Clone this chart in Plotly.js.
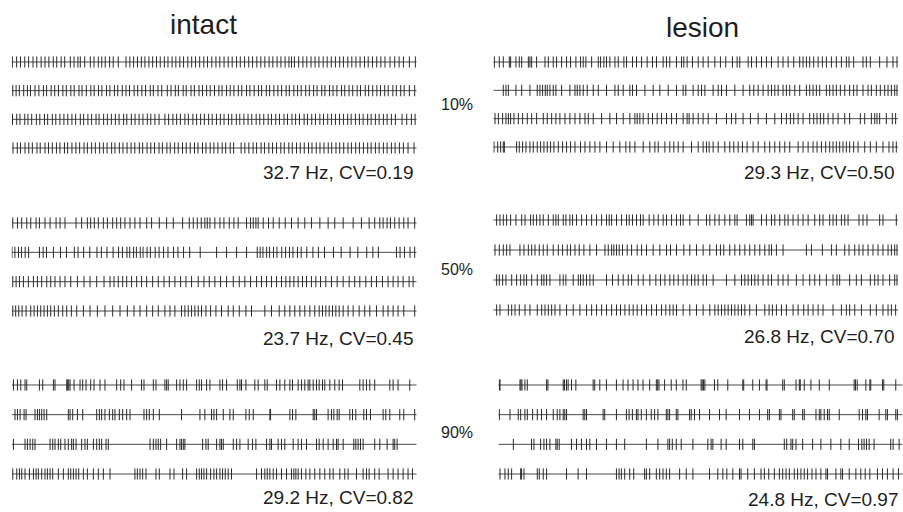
<!DOCTYPE html>
<html><head><meta charset="utf-8">
<script src="https://cdn.plot.ly/plotly-3.0.1.min.js"></script>
<style>html,body{margin:0;padding:0;background:#fff}#chart{width:903px;height:512px}</style>
</head><body><div id="chart"></div>
<script>
// ---- data (spike times in ms within a ~3 s window) ----
const columns = ["intact", "lesion"];
const levels = ["10%", "50%", "90%"];
const intactStats = ["32.7 Hz, CV=0.19", "23.7 Hz, CV=0.45", "29.2 Hz, CV=0.82"];
const lesionStats = ["29.3 Hz, CV=0.50", "26.8 Hz, CV=0.70", "24.8 Hz, CV=0.97"];
const WINDOW_MS = 3040;

const intact10 = [
  [5,37,66,98,127,160,188,221,250,279,312,338,371,398,440,468,497,515,548,590,618,650,676,702,735,762,800,858,887,915,944,973,1000,1030,1058,1087,1115,1146,1173,1204,1232,1262,1290,1322,1351,1380,1411,1442,1470,1502,1533,1562,1594,1625,1655,1688,1716,1748,1779,1808,1840,1870,1900,1932,1960,1992,2021,2052,2081,2100,2122,2154,2186,2215,2247,2277,2306,2338,2368,2399,2430,2462,2490,2523,2553,2584,2615,2648,2676,2708,2740,2771,2802,2840,2875,2908,2940,2985,3030],
  [8,33,57,90,118,141,175,204,238,262,296,323,351,384,410,444,469,505,528,560,594,619,652,677,712,737,771,796,830,858,884,919,946,977,1005,1040,1063,1098,1126,1168,1196,1228,1251,1287,1310,1346,1371,1406,1432,1463,1490,1522,1555,1579,1613,1640,1668,1701,1727,1763,1788,1820,1852,1876,1911,1936,1968,1998,2026,2060,2084,2118,2146,2173,2207,2234,2266,2292,2327,2351,2386,2412,2441,2476,2500,2532,2560,2593,2618,2654,2679,2710,2741,2768,2800,2826,2861,2887,2920,2946,2985,3025],
  [6,38,62,98,122,150,185,211,246,270,305,331,362,392,421,452,480,515,540,572,600,633,656,690,718,748,778,806,840,864,898,926,956,985,1018,1044,1075,1106,1150,1178,1210,1238,1266,1300,1326,1360,1388,1418,1446,1478,1505,1537,1566,1594,1627,1652,1686,1712,1743,1774,1802,1835,1862,1892,1925,1950,1982,2010,2044,2070,2104,2131,2160,2195,2220,2252,2280,2313,2340,2372,2400,2430,2461,2490,2522,2548,2580,2610,2638,2672,2698,2730,2758,2790,2818,2850,2880,2930,2965,3000,3028],
  [10,42,66,100,128,155,190,214,250,276,305,336,362,396,420,452,482,510,543,568,600,628,660,688,716,750,775,808,835,866,896,924,958,983,1016,1044,1072,1106,1131,1165,1190,1223,1250,1282,1310,1340,1372,1398,1432,1458,1490,1518,1548,1580,1606,1640,1666,1722,1750,1780,1812,1838,1872,1898,1930,1958,1988,2020,2046,2080,2106,2138,2166,2196,2228,2254,2286,2314,2344,2376,2402,2434,2462,2492,2524,2550,2582,2610,2640,2672,2698,2730,2758,2790,2818,2850,2878,2910,2940,2975,3020]
];
const intact50 = [
  [8,43,75,113,143,183,208,250,288,333,363,400,483,525,568,593,620,650,688,718,758,788,818,850,888,925,963,1013,1050,1108,1163,1213,1283,1333,1363,1393,1423,1450,1468,1488,1525,1563,1593,1633,1668,1700,1763,1793,1813,1833,1850,1888,1928,1963,2008,2053,2100,2150,2200,2250,2313,2375,2425,2488,2563,2625,2683,2725,2763,2788,2818,2843,2875,2908,2943,2975,3025],
  [2,24,51,73,101,127,208,236,261,313,366,411,470,498,540,586,640,673,715,761,802,831,865,886,915,936,965,986,1016,1041,1077,1106,1140,1173,1215,1248,1290,1336,1415,1538,1613,1688,1763,1843,1865,1886,1914,1936,1965,1991,2027,2056,2085,2111,2145,2173,2215,2261,2302,2348,2415,2473,2540,2598,2665,2711,2752,2888,2915,2948,2990,3025],
  [8,33,58,88,125,163,193,225,263,293,325,363,400,443,493,543,588,638,693,738,768,800,833,863,900,938,975,1013,1058,1100,1143,1183,1225,1268,1308,1350,1400,1443,1483,1525,1568,1613,1663,1708,1750,1793,1838,1875,1913,1950,1988,2025,2058,2088,2118,2150,2183,2213,2250,2283,2318,2358,2400,2443,2488,2533,2575,2613,2658,2700,2738,2783,2825,2863,2900,2938,2983,3013],
  [8,30,53,78,108,143,168,193,218,243,268,293,320,350,383,413,448,488,538,588,643,700,758,813,868,918,963,1013,1058,1100,1150,1188,1225,1275,1300,1325,1350,1375,1400,1425,1458,1493,1533,1575,1625,1663,1708,1758,1800,1900,1950,2008,2050,2088,2125,2163,2200,2238,2275,2308,2333,2358,2383,2408,2433,2458,2488,2525,2563,2608,2650,2688,2738,2788,2825,2863,2900,2943,3025]
];
const intact90 = [
  [13,43,68,100,113,208,233,313,325,413,420,428,438,468,513,533,558,593,618,663,700,788,818,843,900,975,993,1063,1083,1150,1163,1175,1238,1263,1288,1313,1388,1408,1425,1463,1488,1563,1583,1613,1693,1713,1725,1758,1825,1850,1900,1918,1988,2013,2050,2088,2108,2150,2175,2200,2225,2238,2263,2288,2308,2333,2350,2388,2425,2458,2483,2613,2638,2663,2688,2725,2838,2863,2900,2988],
  [25,43,63,93,108,175,193,208,225,243,263,425,438,458,493,533,638,658,675,700,733,758,775,808,833,863,888,993,1013,1033,1063,1108,1275,1413,1450,1500,1518,1538,1588,1638,1663,1758,1783,1813,1938,1943,2088,2108,2133,2263,2275,2288,2375,2400,2418,2443,2458,2538,2558,2583,2643,2663,2693,2788,2808,2838,2913,2943,3025],
  [13,100,118,138,158,175,288,308,325,350,368,400,425,450,463,483,525,550,568,613,638,658,675,708,725,1038,1063,1083,1100,1118,1163,1238,1263,1275,1288,1300,1433,1458,1475,1538,1563,1575,1588,1663,1688,1713,1775,1808,1833,1913,1938,1950,2000,2025,2050,2113,2150,2175,2213,2288,2308,2338,2375,2413,2438,2450,2488,2568,2583,2600,2618,2638,2725,2763,2818,2863,2875,2893],
  [8,38,58,75,100,133,163,183,200,225,250,268,288,308,350,388,425,443,463,483,503,538,568,613,650,688,738,925,943,963,983,1008,1083,1108,1188,1218,1283,1313,1388,1408,1425,1443,1463,1493,1518,1538,1563,1583,1603,1625,1650,1838,1875,1900,1918,1938,1963,1988,2025,2063,2100,2118,2133,2150,2175,2208,2238,2275,2313,2350,2388,2413,2463,2500,2525,2588,2638,2663,2683,2725,2758,2825,2863,2900,2938,2975,3008]
];
const lesion10 = [
  [8,45,75,120,130,170,195,213,263,275,288,325,388,413,450,475,513,550,580,620,655,675,695,738,788,805,830,850,875,913,938,980,1000,1045,1075,1113,1155,1195,1225,1275,1300,1325,1375,1413,1430,1455,1495,1538,1575,1613,1663,1705,1745,1795,1830,1850,1913,1938,1975,2013,2050,2088,2138,2175,2213,2255,2300,2325,2350,2375,2405,2438,2470,2500,2538,2575,2613,2650,2670,2705,2775,2800,2830,2900,2955,3000,3030],
  [75,95,113,170,213,275,330,350,370,390,405,425,450,470,513,575,613,630,650,675,705,750,788,850,913,938,975,1025,1045,1075,1138,1200,1250,1313,1375,1425,1445,1500,1538,1563,1588,1650,1688,1713,1750,1813,1875,1925,1955,1988,2025,2063,2088,2113,2138,2175,2200,2225,2263,2300,2350,2375,2400,2425,2450,2500,2525,2550,2575,2605,2638,2675,2705,2730,2775,2813,2838,2875,2905,2938,2963,2988,3013,3030],
  [13,38,70,95,113,130,155,188,220,255,288,325,375,405,438,470,500,538,575,613,650,688,713,750,813,875,925,975,1025,1063,1080,1100,1125,1163,1195,1230,1263,1300,1338,1375,1425,1455,1470,1500,1538,1575,1613,1675,1750,1788,1820,1875,1930,1988,2050,2113,2163,2200,2230,2255,2288,2325,2375,2405,2430,2455,2480,2513,2550,2588,2638,2675,2755,2788,2838,2863,2880,2900,2950,2995,3020],
  [5,33,55,75,83,175,195,220,245,275,300,330,355,380,405,430,455,488,520,550,580,613,655,688,725,763,800,850,900,950,995,1025,1063,1125,1175,1213,1238,1288,1325,1355,1388,1425,1488,1538,1575,1600,1620,1650,1688,1738,1775,1805,1838,1870,1905,1950,1988,2038,2075,2113,2150,2188,2225,2288,2325,2363,2400,2430,2463,2495,2525,2550,2575,2600,2625,2650,2675,2705,2738,2788,2830,2875,2925,2970,3000,3025]
];
const lesion50 = [
  [25,50,75,100,130,170,213,238,280,300,325,350,375,413,450,470,488,525,545,575,595,625,663,700,738,775,813,850,870,888,925,963,1000,1020,1045,1075,1105,1125,1170,1205,1238,1275,1300,1338,1375,1405,1425,1475,1538,1600,1625,1663,1695,1738,1775,1813,1830,1900,1925,1938,1950,2013,2050,2088,2113,2150,2188,2213,2250,2288,2325,2363,2413,2450,2475,2525,2550,2575,2613,2638,2663,2745,2775,2805,2900,2925,3025],
  [13,45,75,100,125,200,230,263,288,313,345,375,405,450,488,520,555,580,613,645,680,725,775,838,863,888,905,925,945,970,1005,1038,1080,1113,1150,1200,1250,1300,1330,1375,1430,1475,1525,1575,1625,1675,1705,1730,1775,1813,1850,1888,1925,1963,2000,2038,2070,2088,2125,2175,2350,2388,2470,2538,2575,2638,2670,2713,2745,2775,2813,2850,2888,2925,2963,2988,3013,3030],
  [25,45,70,95,138,175,205,230,250,288,330,363,380,400,425,500,525,545,600,638,655,675,700,725,750,850,895,938,975,1013,1038,1088,1125,1175,1220,1255,1288,1325,1355,1388,1425,1455,1488,1513,1538,1575,1600,1650,1750,1813,1863,1888,1913,1938,1963,1988,2025,2063,2088,2138,2175,2213,2275,2325,2375,2413,2450,2500,2550,2580,2600,2675,2725,2763,2830,2863,2888,2925,2975,3013,3030],
  [25,50,113,138,163,195,238,275,330,363,388,413,438,463,500,550,600,650,700,738,775,813,850,888,925,955,988,1020,1050,1080,1113,1150,1188,1225,1263,1295,1325,1350,1375,1425,1475,1525,1575,1625,1663,1688,1713,1738,1763,1788,1813,1838,1863,1888,1925,1975,2038,2070,2095,2125,2163,2200,2250,2288,2330,2363,2400,2438,2475,2550,2613,2650,2675,2713,2763,2830,2875,2925,2963,2988,3020]
];
const lesion90 = [
  [8,13,163,170,178,200,218,363,373,488,498,513,525,550,583,713,725,763,813,888,938,975,1013,1050,1088,1138,1188,1198,1208,1250,1300,1338,1388,1413,1525,1533,1543,1553,1625,1650,1725,1838,1845,1913,1963,2013,2020,2138,2150,2238,2263,2270,2300,2350,2413,2488,2675,2685,2698,2763,2793,2800,2888,2898,2988],
  [8,88,150,168,200,218,258,293,325,363,413,443,463,488,500,513,638,650,663,788,800,888,963,983,1008,1038,1050,1075,1113,1150,1175,1200,1263,1275,1288,1338,1350,1438,1450,1475,1513,1588,1663,1713,1813,1888,1963,2025,2038,2113,2125,2213,2225,2288,2300,2388,2413,2425,2450,2475,2488,2563,2713,2738,2763,2775,2863,2913,2925,2988,3000],
  [113,250,268,318,343,363,388,433,443,458,550,588,625,663,688,738,813,888,950,1113,1200,1275,1288,1308,1338,1375,1463,1575,1600,1613,1675,1713,1813,1838,1913,1925,2150,2168,2200,2213,2238,2288,2363,2425,2500,2575,2638,2708,2733,2750,2768,2788,2825,2950,2968,3013],
  [13,50,75,100,168,175,193,293,308,338,363,513,600,663,888,908,925,950,988,1018,1100,1113,1138,1188,1213,1238,1263,1288,1363,1413,1463,1588,1650,1688,1718,1763,1813,1825,1875,1925,1975,2000,2033,2075,2113,2138,2163,2188,2225,2250,2275,2300,2325,2358,2388,2425,2463,2475,2538,2575,2588,2638,2688,2725,2758,2793,2850,2888,2925,2968,3008]
];

// ---- layout geometry (pixels in a 903x512 canvas) ----
const W = 903, H = 512;
const blocks = [
  {data: intact10, x0: 11.7, x1: 416.7, rows: [62, 90, 119, 148]},
  {data: intact50, x0: 11.7, x1: 416.7, rows: [223, 252, 281, 311]},
  {data: intact90, x0: 11.7, x1: 416.7, rows: [385, 414, 444, 474]},
  {data: lesion10, x0: 493.3, x1: 898.3, rows: [62, 89, 119, 147]},
  {data: lesion50, x0: 493.3, x1: 898.3, rows: [220, 250, 280, 310]},
  {data: lesion90, x0: 498.3, x1: 902.7, rows: [385, 414, 444, 474]}
];

const traces = [];
const layout = {
  width: W, height: H,
  margin: {l: 0, r: 0, t: 0, b: 0},
  paper_bgcolor: '#ffffff', plot_bgcolor: 'rgba(0,0,0,0)',
  showlegend: false,
  annotations: []
};

blocks.forEach((b, i) => {
  const n = i + 1;
  const xa = n === 1 ? 'x' : 'x' + n;
  const ya = n === 1 ? 'y' : 'y' + n;
  const s = (b.rows[3] - b.rows[0]) / 3;
  const top = b.rows[0] - s / 2, bot = b.rows[3] + s / 2;
  layout[n === 1 ? 'xaxis' : 'xaxis' + n] = {
    domain: [b.x0 / W, b.x1 / W], range: [0, WINDOW_MS], anchor: ya,
    visible: false, fixedrange: true
  };
  layout[n === 1 ? 'yaxis' : 'yaxis' + n] = {
    domain: [1 - bot / H, 1 - top / H], range: [4.5, 0.5], anchor: xa,
    visible: false, fixedrange: true
  };
  b.data.forEach((spikes, r) => {
    const row = r + 1;
    traces.push({
      type: 'scatter', mode: 'lines', xaxis: xa, yaxis: ya,
      x: [0, WINDOW_MS], y: [row, row],
      line: {color: '#4a4a4a', width: 1}, hoverinfo: 'skip'
    });
    traces.push({
      type: 'scatter', mode: 'markers', xaxis: xa, yaxis: ya,
      x: spikes, y: spikes.map(() => row),
      marker: {symbol: 'line-ns-open', size: 8, color: '#2a2a2a', line: {width: 1, color: '#2a2a2a'}},
      hoverinfo: 'skip'
    });
  });
});

const font = 'Liberation Sans, Arial, sans-serif';
function ann(text, px, py, size, xanchor) {
  layout.annotations.push({
    text: text, xref: 'paper', yref: 'paper', x: px / W, y: 1 - py / H,
    xanchor: xanchor, yanchor: 'middle', showarrow: false,
    font: {family: font, size: size, color: '#1e1e1e'}
  });
}
ann(columns[0], 203, 24, 28, 'center');
ann(columns[1], 702, 27, 28, 'center');
const levelY = [104, 269, 432];
levels.forEach((t, i) => ann(t, 457, levelY[i], 16, 'center'));
const intactStatY = [172, 338, 497];
const lesionStatY = [172, 336, 499];
const lesionStatX = [897, 897, 901];
intactStats.forEach((t, i) => ann(t, 416, intactStatY[i], 19, 'right'));
lesionStats.forEach((t, i) => ann(t, lesionStatX[i], lesionStatY[i], 19, 'right'));

Plotly.newPlot('chart', traces, layout, {staticPlot: true, displayModeBar: false});
</script>
</body></html>
